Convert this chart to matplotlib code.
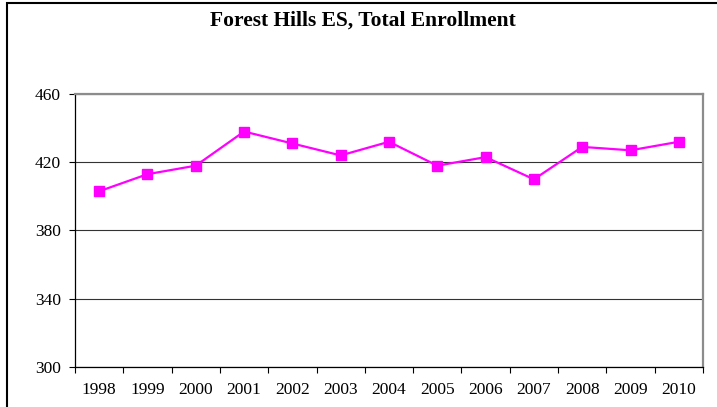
import numpy as np
import matplotlib.pyplot as plt
from matplotlib.patches import Rectangle

years = ["1998", "1999", "2000", "2001", "2002", "2003", "2004",
         "2005", "2006", "2007", "2008", "2009", "2010"]
enrollment = [403, 413, 418, 438, 431, 424, 432, 418, 423, 410, 429, 427, 432]
y_ticks = [300, 340, 380, 420, 460]

plt.rcParams['font.family'] = ['Liberation Serif', 'DejaVu Serif']

fig = plt.figure(figsize=(7.17, 4.07), dpi=100)
ax = fig.add_axes([75 / 717, 1 - 367 / 407, 628 / 717, 273 / 407])

# outer chart frame (top and left edges visible)
fig.patches.append(Rectangle((7 / 717, -0.1), 1.2, 1 - 3 / 407 + 0.1,
                             transform=fig.transFigure, fill=False,
                             edgecolor="black", linewidth=1.5))

x = np.arange(len(years))
ax.plot(x, enrollment, color="#FF00FF", linewidth=1.6, marker="s",
        markersize=7.5, markerfacecolor="#FF00FF", markeredgecolor="#FF00FF",
        zorder=3)

ax.set_xlim(-0.5, len(years) - 0.5)
ax.set_ylim(300, 460)
ax.set_yticks(y_ticks)
ax.set_yticklabels([str(v) for v in y_ticks], fontsize=12.5)
ax.set_xticks(x)
ax.set_xticklabels(years, fontsize=12.5)
ax.set_xticks(np.arange(-0.5, len(years)), minor=True)
ax.tick_params(axis="x", which="major", length=0, pad=11)
ax.tick_params(axis="x", which="minor", length=4, width=0.8, direction="out")
ax.tick_params(axis="y", length=4, width=0.8, direction="out", pad=6)

ax.grid(axis="y", color="#333333", linewidth=0.8)
ax.set_axisbelow(True)
for side in ("top", "right"):
    ax.spines[side].set_color("#8c8c8c")
    ax.spines[side].set_linewidth(1.6)
for side in ("left", "bottom"):
    ax.spines[side].set_color("black")
    ax.spines[side].set_linewidth(0.9)

fig.text(363 / 717, 1 - 21 / 407, "Forest Hills ES, Total Enrollment",
         ha="center", va="center", fontsize=15.5, fontweight="bold")

fig.savefig("out.png", dpi=100)
